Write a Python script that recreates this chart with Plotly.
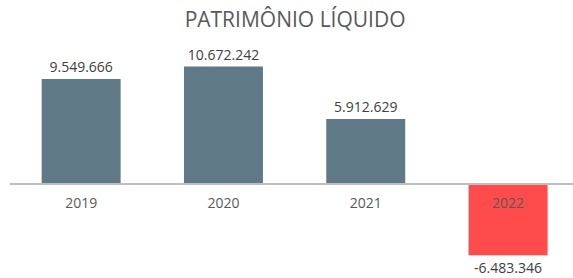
import plotly.graph_objects as go

anos = ["2019", "2020", "2021", "2022"]
patrimonio = [9549666, 10672242, 5912629, -6483346]
cores = ["#5F7A86", "#5F7A86", "#5F7A86", "#FF4B4B"]
titulo = "PATRIMÔNIO LÍQUIDO"

W, H = 573, 278
zero_px = 184
px_per_unit = 11.0 / 1e6
y_top = zero_px / px_per_unit
y_bot = -(H - zero_px) / px_per_unit

fig = go.Figure(go.Bar(
    x=anos, y=patrimonio,
    marker=dict(color=cores, line=dict(width=0)),
    width=0.555,
    texttemplate="%{y:,.0f}",
    textposition="outside",
    textfont=dict(family="Open Sans", size=14, color="#404040"),
    cliponaxis=False,
))

fig.update_layout(
    width=W, height=H,
    margin=dict(l=10, r=0, t=0, b=0),
    paper_bgcolor="white", plot_bgcolor="white",
    separators=",.",
    showlegend=False,
    title=dict(text=titulo, x=0.515, xanchor="center", y=1 - 20 / H, yanchor="middle",
               font=dict(family="Open Sans", size=21, color="#595959")),
    xaxis=dict(range=[-0.5, -0.5 + 563 / 142.3], anchor="free", position=(H - zero_px) / H,
               showline=True, linecolor="#BFBFBF", linewidth=1.5, ticks="",
               showgrid=False, tickfont=dict(family="Open Sans", size=14, color="#595959"),
               ticklabelstandoff=6),
    yaxis=dict(range=[y_bot, y_top], visible=False, showgrid=False, zeroline=False),
)

fig.write_html("out.html", config={"displayModeBar": False},
               post_script="document.body.style.margin='0';")
